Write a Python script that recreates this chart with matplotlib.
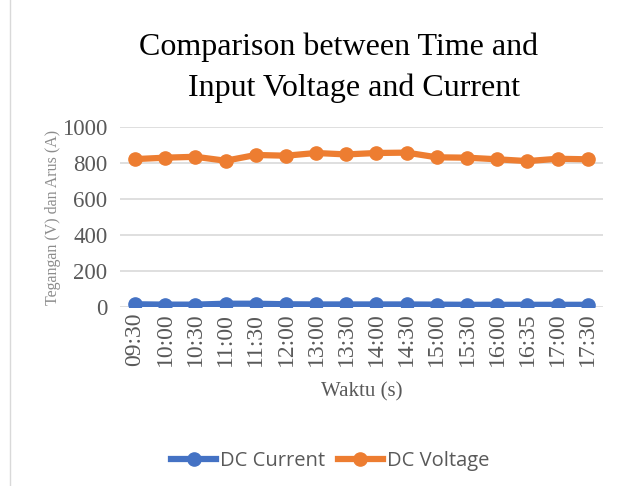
import matplotlib
matplotlib.use("Agg")
import matplotlib.pyplot as plt
from matplotlib.lines import Line2D

times = ["09:30", "10:00", "10:30", "11:00", "11:30", "12:00", "13:00", "13:30",
         "14:00", "14:30", "15:00", "15:30", "16:00", "16:35", "17:00", "17:30"]
dc_current = [16, 14, 14, 19, 19, 16, 15, 15, 15, 15, 14, 13, 13, 13, 13, 13]
dc_voltage = [821, 829, 834, 812, 844, 840, 855, 847, 855, 857, 831, 829, 820, 810, 823, 820]

serif = ["Liberation Serif", "DejaVu Serif"]
gray = "#595959"

fig = plt.figure(figsize=(6.17, 4.86), dpi=100)
ax = fig.add_axes([0.1945, 0.368, 0.7825, 0.371])

x = list(range(len(times)))
ax.plot(x, dc_current, color="#4472C4", lw=4.5, marker="o", ms=9.5, label="DC Current", zorder=3)
ax.plot(x, dc_voltage, color="#ED7D31", lw=4.5, marker="o", ms=9.5, label="DC Voltage", zorder=3)

ax.set_xlim(-0.5, len(times) - 0.5)
ax.set_ylim(0, 1000)
ax.set_yticks([0, 200, 400, 600, 800, 1000])
ax.yaxis.grid(True, color="#d9d9d9", lw=1.2)
ax.set_axisbelow(True)
for s in ax.spines.values():
    s.set_visible(False)
ax.tick_params(axis="both", length=0, colors=gray)
ax.set_xticks(x)
ax.set_xticklabels(times, rotation=90, family=serif, fontsize=17, color=gray)
for lab in ax.get_yticklabels():
    lab.set_family(serif)
    lab.set_fontsize(16.5)
    lab.set_color(gray)
ax.tick_params(axis="y", pad=9)
ax.tick_params(axis="x", pad=4)

ax.set_xlabel("Waktu (s)", family=serif, fontsize=15, color=gray, labelpad=11)
ax.set_ylabel("Tegangan (V) dan Arus (A)", family=serif, fontsize=11.5, color="#8c8c8c", labelpad=1)

fig.text(0.548, 0.903, "Comparison between Time and", family=serif, fontsize=23,
         ha="center", va="center", color="black")
fig.text(0.574, 0.818, "Input Voltage and Current", family=serif, fontsize=23,
         ha="center", va="center", color="black")

fig.legend(handles=ax.get_lines(), loc="center", bbox_to_anchor=(0.535, 0.052), ncol=2,
           frameon=False, prop={"family": ["Open Sans", "DejaVu Sans"], "size": 14.5},
           handlelength=2.25, columnspacing=0.6, handletextpad=0.2, labelcolor=gray)

fig.add_artist(Line2D([0.017, 0.017], [0, 1], transform=fig.transFigure, color="#d9d9d9", lw=1))

fig.savefig("out.png", dpi=100)
